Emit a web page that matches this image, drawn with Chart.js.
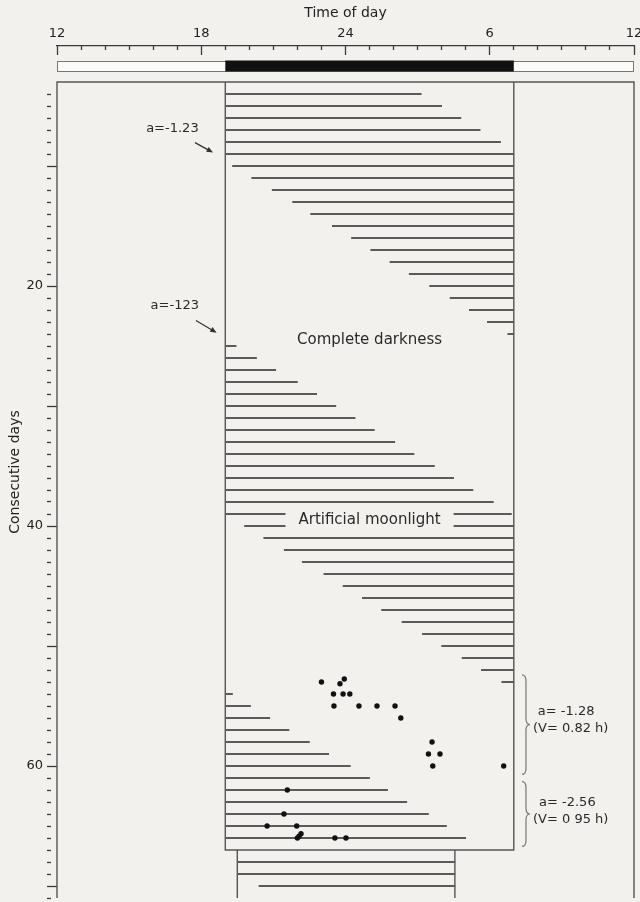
<!DOCTYPE html>
<html>
<head>
<meta charset="utf-8">
<script src="https://cdn.jsdelivr.net/npm/chart.js@4.4.1/dist/chart.umd.min.js"></script>
<style>
  html, body { margin: 0; padding: 0; background: #f2f1ee; }
  #wrap { width: 640px; height: 902px; position: relative; }
</style>
</head>
<body>
<div id="wrap"><canvas id="actogram"></canvas></div>
<script>
// Light regime (hours on a 12..36 clock, 24 = midnight): dark 19:00 - 07:00
const darkStart = 19;
const darkEnd = 31;
// narrower recording window used after day 67
const lateWindow = [19.5, 28.55];
const firstDay = 3;
const lastDay = 67;

// activity band per day: onset and offset hour
const days = [
  4, 5, 6, 7, 8, 9, 10, 11, 12, 13, 14, 15, 16, 17, 18, 19, 20, 21, 22, 23, 24,
  25, 26, 27, 28, 29, 30, 31, 32, 33, 34, 35, 36, 37, 38, 39,
  40, 41, 42, 43, 44, 45, 46, 47, 48, 49, 50, 51, 52, 53,
  54, 55, 56, 57, 58, 59, 60, 61, 62, 63, 64, 65, 66,
  68, 69, 70
];
const onsets = [
  19, 19, 19, 19, 19, 19, 19.3, 20.1, 20.95, 21.8, 22.55, 23.45, 24.25, 25.05, 25.85, 26.65, 27.5, 28.35, 29.15, 29.9, 30.75,
  19, 19, 19, 19, 19, 19, 19, 19, 19, 19, 19, 19, 19, 19, 19,
  19.8, 20.6, 21.45, 22.2, 23.1, 23.9, 24.7, 25.5, 26.35, 27.2, 28.0, 28.85, 29.65, 30.5,
  19, 19, 19, 19, 19, 19, 19, 19, 19, 19, 19, 19, 19,
  19.5, 19.5, 20.4
];
const offsets = [
  27.15, 28.0, 28.8, 29.6, 30.45, 31, 31, 31, 31, 31, 31, 31, 31, 31, 31, 31, 31, 31, 31, 31, 31,
  19.45, 20.3, 21.1, 22.0, 22.8, 23.6, 24.4, 25.2, 26.05, 26.85, 27.7, 28.5, 29.3, 30.15, 30.9,
  31, 31, 31, 31, 31, 31, 31, 31, 31, 31, 31, 31, 31, 31,
  19.3, 20.05, 20.85, 21.65, 22.5, 23.3, 24.2, 25.0, 25.75, 26.55, 27.45, 28.2, 29.0,
  28.55, 28.55, 28.55
];

// single events (dots)
const dotHours = [
  23.0, 23.95, 23.77, 23.5, 23.9, 24.18, 23.52, 24.56, 25.31, 26.06, 26.3,
  27.6, 27.45, 27.93, 27.63, 30.58,
  21.58, 21.44, 20.74, 21.97, 22.15, 22.07, 22.0, 23.56, 24.02
];
const dotDays = [
  53, 52.75, 53.15, 54, 54, 54, 55, 55, 55, 55, 56,
  58, 59, 59, 60, 60,
  62, 64, 65, 65, 65.65, 65.85, 66, 66, 66
];

// axis labels
const hourTicks = [12, 18, 24, 30, 36];
const hourTickLabels = ['12', '18', '24', '6', '12'];
const dayTickLabels = [20, 40, 60];

const ink = '#3a3a3a';
const font = 'DejaVu Sans';

const bandData = days.map((d, i) => ({ y: d, x: [onsets[i], offsets[i]] }));
const dotData = dotHours.map((h, i) => ({ x: h, y: dotDays[i] }));

const notes = [
  { text: 'a=-1.23', h: 16.8, d: 6.9, align: 'center', size: 13 },
  { text: 'a=-123', h: 16.9, d: 21.6, align: 'center', size: 13 },
  { text: 'Complete darkness', h: 25, d: 24.55, align: 'center', size: 15 },
  { text: 'a= -1.28', h: 32.0, d: 55.5, align: 'left', size: 13 },
  { text: '(V= 0.82 h)', h: 31.8, d: 56.9, align: 'left', size: 13 },
  { text: 'a= -2.56', h: 32.05, d: 63.05, align: 'left', size: 13 },
  { text: '(V= 0 95 h)', h: 31.8, d: 64.45, align: 'left', size: 13 }
];
const arrows = [
  { from: [17.74, 8.05], to: [18.49, 8.88] },
  { from: [17.78, 22.87], to: [18.64, 23.89] }
];
const braces = [
  { h: 31.34, from: 52.4, to: 60.7 },
  { h: 31.34, from: 61.3, to: 66.7 }
];

const decor = {
  id: 'decor',
  beforeDatasetsDraw(chart) {
    const { ctx, scales: { x, y } } = chart;
    const X = v => x.getPixelForValue(v);
    const Y = v => y.getPixelForValue(v);
    ctx.save();

    // light/dark bar under the time ruler
    const top = x.bottom + 15;
    ctx.fillStyle = '#fbfbf9';
    ctx.fillRect(X(12), top, X(36) - X(12), 10);
    ctx.strokeStyle = '#777';
    ctx.lineWidth = 1;
    ctx.strokeRect(X(12) + 0.5, top + 0.5, X(36) - X(12) - 1, 10);
    ctx.fillStyle = '#111';
    ctx.fillRect(X(darkStart), top - 0.5, X(darkEnd) - X(darkStart), 11);

    // outer frame and recording boxes
    ctx.strokeStyle = '#555';
    ctx.lineWidth = 1.4;
    ctx.beginPath();
    ctx.moveTo(X(12), Y(71));
    ctx.lineTo(X(12), Y(firstDay));
    ctx.lineTo(X(36), Y(firstDay));
    ctx.lineTo(X(36), Y(71));
    ctx.moveTo(X(darkStart), Y(firstDay));
    ctx.lineTo(X(darkStart), Y(lastDay));
    ctx.lineTo(X(darkEnd), Y(lastDay));
    ctx.lineTo(X(darkEnd), Y(firstDay));
    ctx.moveTo(X(lateWindow[0]), Y(lastDay));
    ctx.lineTo(X(lateWindow[0]), Y(71));
    ctx.moveTo(X(lateWindow[1]), Y(lastDay));
    ctx.lineTo(X(lateWindow[1]), Y(71));
    ctx.stroke();
    ctx.restore();
  },
  afterDatasetsDraw(chart) {
    const { ctx, scales: { x, y } } = chart;
    const X = v => x.getPixelForValue(v);
    const Y = v => y.getPixelForValue(v);
    ctx.save();
    ctx.textBaseline = 'middle';
    ctx.fillStyle = '#2a2a2a';

    // moonlight label sits on a cleared strip across the bands
    ctx.font = '15px "' + font + '"';
    const label = 'Artificial moonlight';
    const w = ctx.measureText(label).width;
    const cx = X(25), cy = Y(39.5);
    ctx.fillStyle = '#f2f1ee';
    ctx.fillRect(cx - w / 2 - 13, cy - 11, w + 26, 22);
    ctx.fillStyle = '#2a2a2a';
    ctx.textAlign = 'center';
    ctx.fillText(label, cx, cy);

    notes.forEach(n => {
      ctx.font = n.size + 'px "' + font + '"';
      ctx.textAlign = n.align;
      ctx.fillText(n.text, X(n.h), Y(n.d));
    });

    ctx.strokeStyle = '#333';
    ctx.lineWidth = 1.2;
    arrows.forEach(a => {
      const x0 = X(a.from[0]), y0 = Y(a.from[1]);
      const x1 = X(a.to[0]), y1 = Y(a.to[1]);
      const ang = Math.atan2(y1 - y0, x1 - x0);
      ctx.beginPath();
      ctx.moveTo(x0, y0);
      ctx.lineTo(x1 - 4 * Math.cos(ang), y1 - 4 * Math.sin(ang));
      ctx.stroke();
      ctx.beginPath();
      ctx.moveTo(x1, y1);
      ctx.lineTo(x1 - 7 * Math.cos(ang - 0.4), y1 - 7 * Math.sin(ang - 0.4));
      ctx.lineTo(x1 - 7 * Math.cos(ang + 0.4), y1 - 7 * Math.sin(ang + 0.4));
      ctx.closePath();
      ctx.fillStyle = '#333';
      ctx.fill();
    });

    ctx.strokeStyle = '#777';
    ctx.lineWidth = 1.2;
    braces.forEach(b => {
      const bx = X(b.h), y1 = Y(b.from), y2 = Y(b.to), ym = (y1 + y2) / 2, k = 4;
      ctx.beginPath();
      ctx.moveTo(bx, y1);
      ctx.quadraticCurveTo(bx + k, y1, bx + k, y1 + 6);
      ctx.lineTo(bx + k, ym - 6);
      ctx.quadraticCurveTo(bx + k, ym, bx + 2 * k, ym);
      ctx.quadraticCurveTo(bx + k, ym, bx + k, ym + 6);
      ctx.lineTo(bx + k, y2 - 6);
      ctx.quadraticCurveTo(bx + k, y2, bx, y2);
      ctx.stroke();
    });
    ctx.restore();
  }
};

new Chart(document.getElementById('actogram'), {
  type: 'bar',
  data: {
    datasets: [
      {
        type: 'scatter',
        data: dotData,
        pointRadius: 2.7,
        pointBackgroundColor: '#111',
        pointBorderWidth: 0,
        order: 0
      },
      {
        type: 'bar',
        indexAxis: 'y',
        data: bandData,
        backgroundColor: '#5a5a5a',
        borderWidth: 0,
        barThickness: 1.3,
        order: 1
      }
    ]
  },
  options: {
    responsive: true,
    maintainAspectRatio: false,
    animation: false,
    layout: { padding: { left: 0, right: 6, top: 0, bottom: 0 } },
    plugins: {
      legend: { display: false },
      tooltip: { enabled: false }
    },
    scales: {
      x: {
        type: 'linear',
        position: 'top',
        min: 12,
        max: 36,
        offset: false,
        afterBuildTicks: s => {
          const t = [];
          for (let v = 12; v <= 36; v++) t.push({ value: v });
          s.ticks = t;
        },
        afterFit: s => { s.height = 46; s.paddingLeft = 0; s.paddingRight = 0; },
        ticks: {
          autoSkip: false,
          maxRotation: 0,
          padding: 14,
          color: '#222',
          font: { family: font, size: 13 },
          callback: v => {
            const i = hourTicks.indexOf(v);
            return i >= 0 ? hourTickLabels[i] : '';
          }
        },
        grid: {
          drawOnChartArea: false,
          offset: false,
          tickLength: -9,
          tickWidth: 1.3,
          tickColor: ink,
          tickBorderDash: c => hourTicks.includes(c.tick.value) ? [] : [0, 5, 4, 100]
        },
        border: { display: true, color: ink, width: 1.3 },
        title: {
          display: true,
          text: 'Time of day',
          color: '#222',
          padding: { top: 5, bottom: 0 },
          font: { family: font, size: 14 }
        }
      },
      y: {
        type: 'linear',
        position: 'left',
        reverse: true,
        min: 0,
        max: 71,
        offset: false,
        afterBuildTicks: s => {
          const t = [];
          for (let v = 0; v <= 71; v++) t.push({ value: v });
          s.ticks = t;
        },
        afterFit: s => { s.width = 57; s.paddingTop = 0; s.paddingBottom = 0; },
        ticks: {
          autoSkip: false,
          padding: 4,
          color: '#222',
          font: { family: font, size: 13 },
          callback: v => dayTickLabels.includes(v) ? String(v) : ''
        },
        grid: {
          drawOnChartArea: false,
          offset: false,
          tickLength: 10,
          tickWidth: 1.3,
          tickColor: c => c.tick.value <= firstDay ? 'rgba(0,0,0,0)' : ink,
          tickBorderDash: c => c.tick.value % 10 === 0 ? [] : [4, 100]
        },
        border: { display: false },
        title: {
          display: true,
          text: 'Consecutive days',
          color: '#222',
          padding: { top: 7, bottom: 0 },
          font: { family: font, size: 14 }
        }
      }
    }
  },
  plugins: [decor]
});
</script>
</body>
</html>
